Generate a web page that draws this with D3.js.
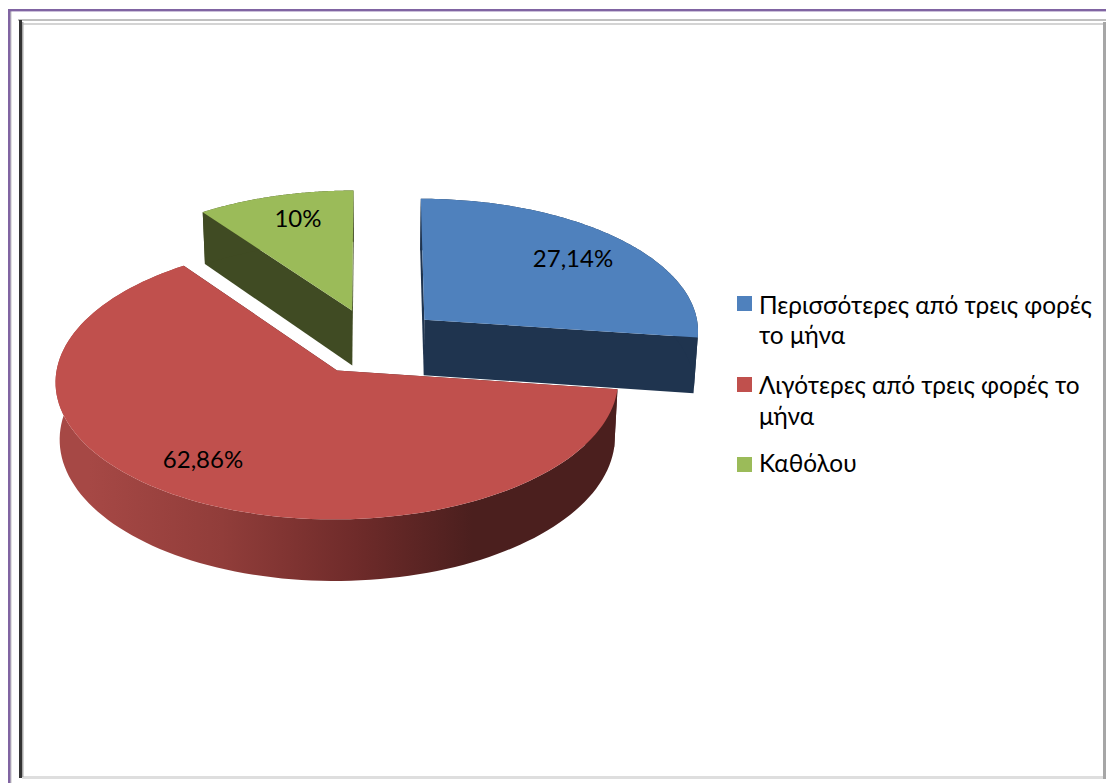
<!DOCTYPE html>
<html><head><meta charset="utf-8">
<script src="https://d3js.org/d3.v7.min.js"></script>
<style>html,body{margin:0;padding:0;background:#fff;overflow:hidden}svg{display:block}text{font-family:"Lato","Open Sans",sans-serif;fill:#000}</style>
</head><body><svg id="c" width="1106" height="783"></svg>
<script>
const categories=["Περισσότερες από τρεις φορές το μήνα","Λιγότερες από τρεις φορές το μήνα","Καθόλου"];
const legendLines=[["Περισσότερες από τρεις φορές","το μήνα"],["Λιγότερες από τρεις φορές το","μήνα"],["Καθόλου"]];
const values=[27.14,62.86,10];
const labels=["27,14%","62,86%","10%"];
const topColors=["#4F81BD","#C0504D","#9BBB59"];
const wallColors=["#1F344F","#4B1F1E","#404B23"];
const wallStops=[[0,"#A64845"],[0.25,"#913D3A"],[0.5,"#6F2B2A"],[0.72,"#4B1F1E"],[1,"#4B1F1E"]];
const labelPos=[[573,259],[203,460],[298,219]];
const legendY=[[314,344],[394,425],[472]];
const swatchY=[296,377,457];

const EXPLODE=0.25, PERSP=0.0745, RX=276, RY=133.2, CX=373, CY=341.5, DEPTH=56, TAPER=0.013;
const svg=d3.select("#c");
const defs=svg.append("defs");
const pie=d3.pie().sort(null).value(d=>d)(values);
const sx=d3.scaleLinear().domain([-1,1]).range([CX-RX,CX+RX]);
const sy=d3.scaleLinear().domain([-1,1]).range([CY-RY,CY+RY]);
function proj(X,V,z){const k=1/(1-PERSP*V);
  return [sx(X*k*(1-TAPER*z)),sy(V*k)+DEPTH*z*k];}
const line=d3.line();
function slice(d){
  const mid=(d.startAngle+d.endAngle)/2;
  const ex=EXPLODE*Math.sin(mid), ev=-EXPLODE*Math.cos(mid);
  const at=(a,r,z)=>proj(ex+r*Math.sin(a),ev-r*Math.cos(a),z);
  const arc=(a0,a1,z)=>d3.range(0,121).map(i=>at(a0+(a1-a0)*i/120,1,z));
  return {at,arc};
}
function frame(){
  const g=svg.append("g");
  const r=(x,y,w,h,f)=>g.append("rect").attr("x",x).attr("y",y).attr("width",w).attr("height",h).attr("fill",f);
  r(10,11,1.5,772,"#c4c4c4");
  r(8,9,1098,2.4,"#8064A2");r(8,9,2.4,774,"#8064A2");
  r(18,19,1088,2,"#c0c0c0");r(22,23,1081,2,"#d4d4d4");
  r(22,776,1081,3,"#dedede");
  r(1103,22,3,757,"#a6a6a6");
  r(22,22,1.5,755,"#a8a8a8");
  r(19,20,3,758,"#333333");
}
frame();
const grad=defs.append("linearGradient").attr("id","wall").attr("gradientUnits","userSpaceOnUse")
  .attr("x1",sx(-1.03)).attr("x2",sx(0.9)).attr("y1",0).attr("y2",0);
grad.selectAll("stop").data(wallStops).join("stop").attr("offset",d=>d[0]).attr("stop-color",d=>d[1]);
[0,2,1].forEach(i=>{
  const d=pie[i], s=slice(d), g=svg.append("g");
  const apex0=s.at(d.startAngle,0,0), apex1=s.at(d.startAngle,0,1);
  const quad=(a)=>[apex0,s.at(a,1,0),s.at(a,1,1),apex1];
  g.append("path").attr("d",line(quad(d.startAngle))+"Z").attr("fill",wallColors[i]);
  g.append("path").attr("d",line(quad(d.endAngle))+"Z").attr("fill",wallColors[i]);
  const a0=d.startAngle,a1=d.endAngle;
  const top=s.arc(a0,a1,0), bot=s.arc(a0,a1,1).reverse();
  g.append("path").attr("d",line(top.concat(bot))+"Z").attr("fill",i===1?"url(#wall)":wallColors[i]);
  g.append("path").attr("d",line([apex0].concat(top))+"Z").attr("fill",topColors[i]);
});
labels.forEach((t,i)=>svg.append("text").attr("x",labelPos[i][0]).attr("y",labelPos[i][1]+8).attr("text-anchor","middle").attr("font-size",24).text(t));
legendLines.forEach((ls,i)=>{
  svg.append("rect").attr("x",737).attr("y",swatchY[i]).attr("width",15).attr("height",15).attr("fill",topColors[i]);
  ls.forEach((t,j)=>svg.append("text").attr("x",759).attr("y",legendY[i][j]).attr("font-size",24.4).text(t));
});
</script></body></html>
